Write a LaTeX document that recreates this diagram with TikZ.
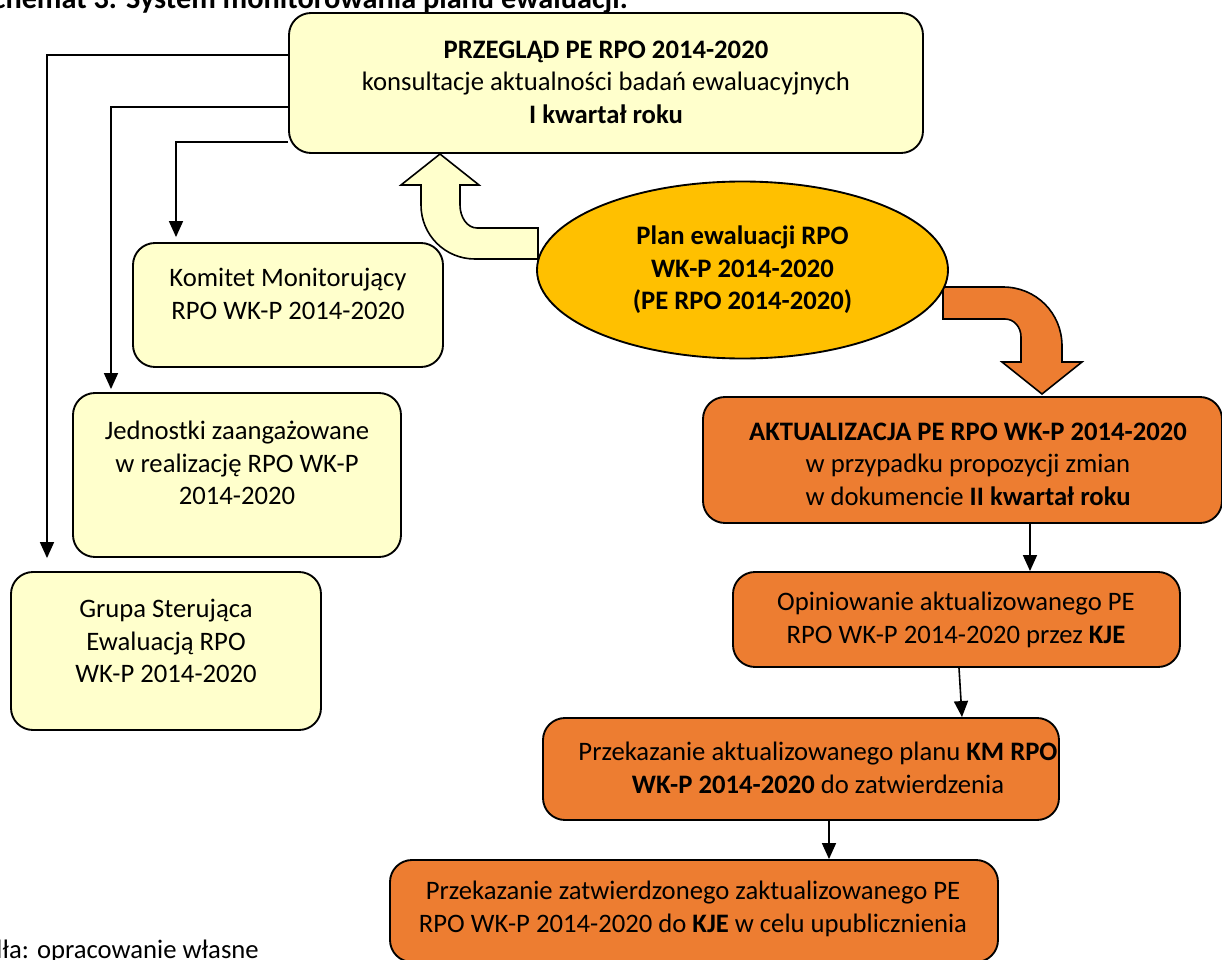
\documentclass[tikz,border=0pt]{standalone}
\usepackage{fontspec}
\setmainfont{Carlito}
\usetikzlibrary{arrows.meta,fit,shapes.geometric,backgrounds}
\definecolor{lyel}{HTML}{FFFFCC}
\definecolor{gold}{HTML}{FFC000}
\definecolor{orng}{HTML}{ED7D31}
\begin{document}
\begin{tikzpicture}[x=0.75pt,y=-0.75pt,
  box/.style={draw=black,line width=1.4pt,rounded corners=16.5pt,inner sep=0pt},
  ybox/.style={box,fill=lyel},
  obox/.style={box,fill=orng},
  txt/.style={align=center,font=\fontsize{20}{24.4}\selectfont,inner sep=0pt},
  conn/.style={line width=1.2pt,-{Triangle[width=10.5pt,length=12pt]}},
  barrow/.style={draw=black,line width=1.2pt,line join=miter}]
\clip (0,0) rectangle (1222,960);

% title and source (partly cut off)
\node[anchor=base east,inner sep=0pt,font=\fontsize{22.7}{26}\selectfont\bfseries] (title) at (628,8) {Schemat 3. System monitorowania planu ewaluacji.};
\node[anchor=base east,inner sep=0pt,font=\fontsize{20}{24}\selectfont] (src) at (259,958) {Źródła: opracowanie własne};

% boxes
\node[ybox,fit={(289,13)(923,153)}] (pg) {};
\node[txt] (pgt) at (606,82) {\textbf{PRZEGLĄD PE RPO 2014-2020}\\konsultacje aktualności badań ewaluacyjnych\\\textbf{I kwartał roku}};

\node[ybox,fit={(133,243)(443,367)}] (km) {};
\node[txt] (kmt) at (288,294) {Komitet Monitorujący\\RPO WK-P 2014-2020};

\node[ybox,fit={(73,393)(401,557)}] (jz) {};
\node[txt] (jzt) at (237,463) {Jednostki zaangażowane\\w realizację RPO WK-P\\2014-2020};

\node[ybox,fit={(11,572)(321,730)}] (gs) {};
\node[txt] (gst) at (166,641) {Grupa Sterująca\\Ewaluacją RPO\\WK-P 2014-2020};

\node[obox,fit={(703,397)(1222,523)}] (ak) {};
\node[txt] (akt) at (968,464) {\textbf{AKTUALIZACJA PE RPO WK-P 2014-2020}\\w przypadku propozycji zmian\\w dokumencie \textbf{II kwartał roku}};

\node[obox,fit={(733,572)(1180,667)}] (op) {};
\node[txt] (opt) at (956,620) {Opiniowanie aktualizowanego PE\\RPO WK-P 2014-2020 przez \textbf{KJE}};

\node[obox,fit={(543,718)(1059,820)}] (p1) {};
\node[txt] (p1t) at (818,768) {Przekazanie aktualizowanego planu \textbf{KM RPO}\\\textbf{WK-P 2014-2020} do zatwierdzenia};

\node[obox,fit={(390,860)(998,962)}] (p2) {};
\node[txt] (p2t) at (693,909) {Przekazanie zatwierdzonego zaktualizowanego PE\\RPO WK-P 2014-2020 do \textbf{KJE} w celu upublicznienia};

% block arrows
\draw[barrow,fill=lyel] (538,228) -- (477,228) .. controls (467,228) and (460,217) .. (460,205) -- (460,185) -- (479,185) -- (440,154) -- (401,185) -- (421,185) -- (421,205) .. controls (421,235) and (445,259) .. (475,259) -- (538,259) -- cycle;
\draw[barrow,fill=orng] (943,287) -- (1003,287) .. controls (1036,287) and (1062,313) .. (1062,346) -- (1062,362) -- (1082,362) -- (1042,394) -- (1002,362) -- (1021,362) -- (1021,337) .. controls (1021,327) and (1014,319) .. (1005,319) -- (943,319) -- cycle;

% ellipse
\node[ellipse,draw=black,line width=1.4pt,fill=gold,minimum width=308.25pt,minimum height=132.75pt,inner sep=0pt,align=center,font=\fontsize{20}{24.4}\selectfont\bfseries] (pl) at (742.5,270) {Plan ewaluacji RPO\\WK-P 2014-2020\\(PE RPO 2014-2020)};

% connectors
\begin{scope}[on background layer]
\coordinate (l1) at (47,55);
\coordinate (l2) at (111,107);
\coordinate (l3) at (176,142);
\draw[conn,shorten >=9.75pt] (pg.west |- l1) -| (gs.north -| l1);
\draw[conn,shorten >=2.25pt] (pg.west |- l2) -| (jz.north -| l2);
\draw[conn,shorten >=3.75pt] (pg.west |- l3) -| (km.north -| l3);
\end{scope}
\draw[conn] (ak.south -| 1030,0) -- (op.north -| 1030,0);
\draw[conn] (op.south -| 959,0) -- (p1.north -| 962,0);
\draw[conn] (p1.south -| 829,0) -- (p2.north -| 829,0);
\end{tikzpicture}
\end{document}
